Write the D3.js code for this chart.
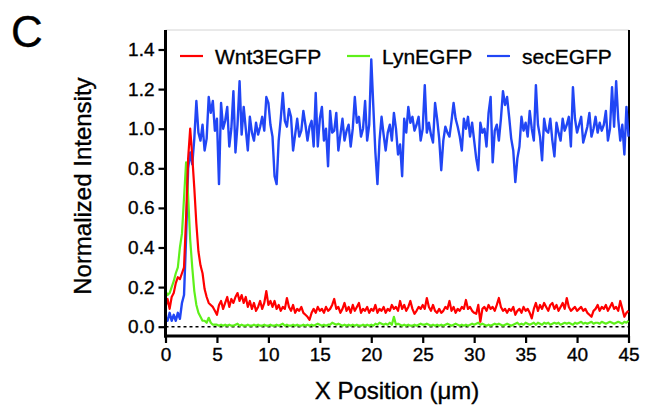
<!DOCTYPE html>
<html>
<head>
<meta charset="utf-8">
<script src="https://cdn.jsdelivr.net/npm/d3@7"></script>
<style>
  html, body { margin: 0; padding: 0; background: #fff; }
  svg { display: block; font-family: "Liberation Sans", Arial, Helvetica, sans-serif; }
  svg text { stroke: #000; stroke-width: 0.35px; paint-order: stroke; }
</style>
</head>
<body>
<svg id="chart" width="653" height="412"></svg>
<script>
// Line-scan profiles, sampled every 0.2 µm from 0 to 45 µm
const X_MAX = 45;

const wnt3Values = [
  0.10, 0.14, 0.09, 0.15, 0.17, 0.22, 0.25, 0.24, 0.27, 0.30,
  0.55, 0.85, 1.00, 0.86, 0.70, 0.52, 0.38, 0.31, 0.27, 0.19,
  0.15, 0.12, 0.11, 0.10, 0.08, 0.06, 0.11, 0.13, 0.09, 0.12,
  0.15, 0.10, 0.14, 0.12, 0.15, 0.17, 0.13, 0.16, 0.12, 0.15,
  0.10, 0.13, 0.09, 0.12, 0.08, 0.10, 0.13, 0.09, 0.12, 0.18,
  0.11, 0.13, 0.10, 0.13, 0.09, 0.11, 0.08, 0.10, 0.09, 0.145,
  0.10, 0.08, 0.11, 0.07, 0.09, 0.08, 0.10, 0.07, 0.06, 0.05,
  0.035, 0.07, 0.09, 0.07, 0.10, 0.08, 0.09, 0.07, 0.10, 0.08,
  0.09, 0.11, 0.14, 0.09, 0.10, 0.07, 0.09, 0.12, 0.08, 0.10,
  0.07, 0.11, 0.08, 0.10, 0.12, 0.07, 0.09, 0.08, 0.10, 0.07,
  0.09, 0.08, 0.11, 0.07, 0.09, 0.08, 0.10, 0.07, 0.09, 0.08,
  0.11, 0.09, 0.10, 0.08, 0.13, 0.09, 0.11, 0.08, 0.10, 0.13,
  0.09, 0.065, 0.08, 0.10, 0.09, 0.11, 0.09, 0.145, 0.10, 0.08,
  0.11, 0.08, 0.07, 0.09, 0.07, 0.08, 0.10, 0.09, 0.13, 0.08,
  0.10, 0.07, 0.09, 0.08, 0.10, 0.09, 0.135, 0.09, 0.10, 0.08,
  0.07, 0.065, 0.11, 0.025, 0.09, 0.10, 0.08, 0.11, 0.09, 0.10,
  0.08, 0.11, 0.145, 0.10, 0.08, 0.09, 0.07, 0.09, 0.08, 0.10,
  0.06, 0.08, 0.09, 0.07, 0.10, 0.08, 0.09, 0.07, 0.042, 0.09,
  0.12, 0.08, 0.11, 0.09, 0.12, 0.10, 0.08, 0.11, 0.12, 0.09,
  0.11, 0.08, 0.10, 0.12, 0.09, 0.145, 0.10, 0.08, 0.09, 0.10,
  0.08, 0.09, 0.10, 0.08, 0.09, 0.07, 0.06, 0.05, 0.08, 0.09,
  0.11, 0.08, 0.10, 0.09, 0.11, 0.08, 0.10, 0.12, 0.09, 0.10,
  0.08, 0.13, 0.09, 0.05, 0.07, 0.08
];

const lynValues = [
  0.18, 0.16, 0.17, 0.20, 0.23, 0.27, 0.30, 0.40, 0.47, 0.65,
  0.83, 0.66, 0.44, 0.30, 0.18, 0.11, 0.07, 0.05, 0.03, 0.03,
  0.02, 0.045, 0.02, 0.01, 0.01, 0.01, 0.005, 0.01, 0.005, 0.01,
  0.005, 0.01, 0.005, 0.005, 0.01, 0.015, 0.005, 0.01, 0.005, 0.005,
  0.01, 0.005, 0.005, 0.01, 0.005, 0.01, 0.005, 0.005, 0.01, 0.005,
  0.005, 0.01, 0.005, 0.005, 0.01, 0.005, 0.01, 0.015, 0.005, 0.01,
  0.005, 0.005, 0.01, 0.005, 0.01, 0.005, 0.005, 0.01, 0.005, 0.01,
  0.005, 0.01, 0.005, 0.01, 0.015, 0.01, 0.005, 0.01, 0.005, 0.01,
  0.01, 0.02, 0.015, 0.01, 0.015, 0.01, 0.005, 0.01, 0.005, 0.01,
  0.005, 0.01, 0.005, 0.01, 0.005, 0.005, 0.01, 0.005, 0.01, 0.005,
  0.01, 0.005, 0.015, 0.01, 0.02, 0.015, 0.01, 0.015, 0.01, 0.02,
  0.01, 0.05, 0.01, 0.015, 0.01, 0.005, 0.01, 0.005, 0.01, 0.005,
  0.005, 0.01, 0.005, 0.01, 0.015, 0.01, 0.01, 0.015, 0.01, 0.005,
  0.01, 0.005, 0.01, 0.005, 0.01, 0.005, 0.01, 0.015, 0.01, 0.005,
  0.01, 0.015, 0.01, 0.005, 0.01, 0.005, 0.01, 0.005, 0.01, 0.015,
  0.01, 0.015, 0.02, 0.01, 0.015, 0.01, 0.005, 0.01, 0.005, 0.01,
  0.015, 0.01, 0.015, 0.01, 0.005, 0.01, 0.015, 0.01, 0.005, 0.01,
  0.015, 0.02, 0.01, 0.015, 0.01, 0.02, 0.015, 0.01, 0.015, 0.02,
  0.01, 0.02, 0.015, 0.01, 0.02, 0.015, 0.02, 0.01, 0.015, 0.02,
  0.015, 0.02, 0.01, 0.015, 0.02, 0.015, 0.02, 0.015, 0.01, 0.02,
  0.015, 0.02, 0.025, 0.015, 0.02, 0.015, 0.02, 0.025, 0.015, 0.02,
  0.02, 0.015, 0.025, 0.02, 0.015, 0.02, 0.025, 0.02, 0.015, 0.02,
  0.025, 0.02, 0.015, 0.025, 0.02, 0.03
];

const secValues = [
  0.05, 0.03, 0.07, 0.03, 0.06, 0.03, 0.07, 0.04, 0.12, 0.16,
  0.45, 0.80, 0.88, 0.82, 0.95, 1.14, 0.98, 0.94, 1.02, 0.89,
  0.95, 1.16, 1.08, 1.14, 0.99, 1.05, 0.72, 1.13, 1.00, 1.04,
  1.11, 0.91, 1.00, 1.19, 0.88, 1.02, 1.24, 0.97, 1.11, 1.00,
  0.89, 1.06, 0.98, 0.94, 1.03, 0.97, 1.01, 1.06, 0.99, 1.16,
  1.13, 1.02, 0.96, 0.76, 0.72, 0.94, 1.05, 1.18, 1.04, 1.01,
  1.10, 1.06, 0.89, 0.97, 1.05, 0.96, 0.99, 1.09, 1.02, 0.94,
  1.01, 1.04, 0.91, 1.18, 0.91, 1.05, 1.11, 0.94, 1.00, 0.81,
  1.09, 0.98, 0.99, 1.08, 0.89, 0.97, 1.05, 0.94, 0.99, 1.02,
  0.91, 1.00, 1.16, 1.03, 1.06, 0.96, 1.00, 1.14, 0.94, 1.02,
  1.35, 1.11, 0.88, 0.72, 0.94, 1.06, 0.97, 0.89, 0.98, 1.02,
  0.94, 1.08, 1.00, 0.87, 0.92, 0.76, 1.05, 0.98, 1.11, 1.03,
  1.06, 0.99, 1.02, 1.06, 0.94, 1.00, 1.22, 0.98, 1.03, 0.97,
  0.93, 1.13, 1.05, 0.95, 0.79, 0.94, 1.01, 0.98, 0.96, 1.04,
  1.13, 1.05, 1.01, 0.96, 0.89, 1.05, 1.00, 1.06, 0.96, 1.03,
  0.94, 0.85, 0.79, 1.03, 0.98, 1.00, 0.91, 1.08, 1.16, 0.83,
  0.99, 1.02, 0.94, 1.05, 1.19, 1.12, 1.16, 1.06, 0.95, 0.89,
  0.73, 0.85, 0.91, 1.06, 0.99, 1.03, 0.96, 1.09, 1.00, 0.94,
  1.22, 1.02, 0.96, 0.84, 1.05, 0.99, 0.98, 1.05, 0.94, 0.86,
  1.03, 0.98, 0.94, 1.05, 0.99, 1.02, 1.06, 0.91, 1.21, 1.05,
  0.98, 1.02, 1.06, 0.93, 0.97, 1.01, 1.08, 0.96, 1.00, 1.06,
  0.98, 1.03, 0.99, 1.02, 1.09, 0.94, 1.00, 1.21, 1.01, 1.24,
  1.05, 0.94, 1.02, 0.87, 1.11, 0.96
];

const seriesNames = ["Wnt3EGFP", "LynEGFP", "secEGFP"];
const seriesColors = ["#ff0000", "#5ef01a", "#2146f5"];
const xTicks = [0, 5, 10, 15, 20, 25, 30, 35, 40, 45];
const yTicks = [0, 0.2, 0.4, 0.6, 0.8, 1.0, 1.2, 1.4];

const svg = d3.select("#chart");

const x = d3.scaleLinear().domain([0, X_MAX]).range([165.5, 628.5]);
const y = d3.scaleLinear().domain([0, 1.4]).range([326.7, 49.5]);

const frameTop = 30, axisY = 336, frameRight = 629;

// light frame top and right edge
svg.append("line")
  .attr("x1", x(0)).attr("x2", frameRight).attr("y1", frameTop).attr("y2", frameTop)
  .attr("stroke", "#d4d4d4").attr("stroke-width", 1);
svg.append("line")
  .attr("x1", frameRight).attr("x2", frameRight).attr("y1", frameTop).attr("y2", axisY)
  .attr("stroke", "#000").attr("stroke-width", 2);

// dashed baseline at zero
svg.append("line")
  .attr("x1", x(0)).attr("x2", frameRight).attr("y1", y(0)).attr("y2", y(0))
  .attr("stroke", "#000").attr("stroke-width", 1.6).attr("stroke-dasharray", "3,3");

// traces (secEGFP underneath, Wnt3EGFP on top)
const profiles = [secValues, lynValues, wnt3Values];
const profileColors = [seriesColors[2], seriesColors[1], seriesColors[0]];
const profileWidths = [2.4, 2.2, 2.2];
const line = d3.line()
  .x((d, i, arr) => x(i * X_MAX / (arr.length - 1)))
  .y(d => y(d));

profiles.forEach((vals, k) => {
  svg.append("path")
    .datum(vals)
    .attr("fill", "none")
    .attr("stroke", profileColors[k])
    .attr("stroke-width", profileWidths[k])
    .attr("stroke-linejoin", "round")
    .attr("d", line);
});

// y axis
const yAxis = d3.axisLeft(y).tickValues(yTicks).tickFormat(d3.format(".1f")).tickSize(7).tickPadding(4);
const gy = svg.append("g").attr("transform", `translate(${x(0)},0)`).call(yAxis);
gy.select(".domain").remove();
gy.selectAll(".tick line").attr("stroke", "#000").attr("stroke-width", 2.2);
gy.selectAll(".tick text").attr("font-size", 19).attr("fill", "#000")
  .attr("font-family", "'Liberation Sans', Arial, sans-serif");
svg.append("line")
  .attr("x1", x(0)).attr("x2", x(0)).attr("y1", frameTop).attr("y2", axisY + 1.5)
  .attr("stroke", "#000").attr("stroke-width", 3);

// x axis
const xAxis = d3.axisBottom(x).tickValues(xTicks).tickFormat(d3.format("d")).tickSize(7).tickPadding(5);
const gx = svg.append("g").attr("transform", `translate(0,${axisY})`).call(xAxis);
gx.select(".domain").remove();
gx.selectAll(".tick line").attr("stroke", "#000").attr("stroke-width", 2.2);
gx.selectAll(".tick text").attr("font-size", 19).attr("fill", "#000")
  .attr("font-family", "'Liberation Sans', Arial, sans-serif");
svg.append("line")
  .attr("x1", x(0) - 1.5).attr("x2", frameRight + 1).attr("y1", axisY).attr("y2", axisY)
  .attr("stroke", "#000").attr("stroke-width", 3);

// axis titles
svg.append("text")
  .attr("x", (x(0) + x(X_MAX)) / 2).attr("y", 399)
  .attr("text-anchor", "middle").attr("font-size", 24).attr("fill", "#000")
  .text("X Position (\u03bcm)");
svg.append("text")
  .attr("transform", `translate(91,${(y(0) + y(1.4)) / 2 - 2}) rotate(-90)`)
  .attr("text-anchor", "middle").attr("font-size", 24).attr("fill", "#000")
  .text("Normalized Intensity");

// panel letter
svg.append("text")
  .attr("x", 11).attr("y", 47).attr("font-size", 44).attr("fill", "#000")
  .text("C");

// legend
const legendX = [180, 347, 487];
seriesNames.forEach((name, i) => {
  const g = svg.append("g").attr("transform", `translate(${legendX[i]},56)`);
  g.append("line").attr("x1", 0).attr("x2", 23).attr("y1", 0).attr("y2", 0)
    .attr("stroke", seriesColors[i]).attr("stroke-width", 2.2);
  g.append("text").attr("x", 35).attr("y", 8).attr("font-size", 21).attr("fill", "#000")
    .text(name);
});
</script>
</body>
</html>
